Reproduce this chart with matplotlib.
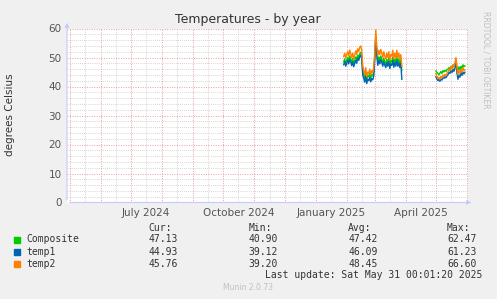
import numpy as np
import pandas as pd
import matplotlib
matplotlib.use("Agg")
import matplotlib.pyplot as plt
import matplotlib.dates as mdates

# ---- data ----
seg1_start = "2025-01-29"
composite_1 = [48.5, 49.5, 48.0, 49.2, 50.0, 48.8, 50.5, 49.5,
               48.3, 49.6, 47.8, 49.0, 50.2, 49.2, 50.8, 50.0, 51.3,
               51.8, 50.5, 45.5, 44.2,
               42.8, 45.0, 42.4, 43.8, 43.3, 44.7, 42.9, 44.2, 43.6, 45.0,
               50.5, 57.5, 52.0,
               48.5, 50.2, 49.0, 50.5, 49.4, 48.2, 49.8, 48.5, 47.6, 49.4,
               48.1, 49.8, 47.3, 49.0, 48.5, 50.2, 47.8, 49.5, 48.2, 50.3,
               48.1, 49.5, 47.8, 49.2, 45.5]
temp1_1 = [47.5, 48.5, 47.0, 48.0, 49.0, 47.8, 49.3, 48.5,
           47.2, 48.5, 46.8, 48.0, 49.0, 48.0, 49.8, 49.0, 50.3,
           50.8, 49.5, 44.0, 42.8,
           41.5, 43.5, 41.0, 42.5, 42.0, 43.2, 41.6, 42.8, 42.3, 43.5,
           49.5, 56.8, 51.0,
           47.3, 49.0, 47.8, 49.3, 48.2, 47.0, 48.6, 47.3, 46.5, 48.2,
           47.0, 48.6, 46.2, 47.8, 47.3, 49.0, 46.6, 48.3, 47.0, 49.0,
           47.0, 48.2, 46.5, 48.0, 42.5]
temp2_1 = [50.3, 51.5, 49.8, 51.0, 52.0, 50.5, 52.6, 51.2,
           50.0, 51.5, 49.5, 50.8, 52.3, 51.0, 53.0, 52.0, 53.5,
           54.0, 52.5, 47.0, 45.5,
           44.0, 46.5, 43.5, 45.0, 44.5, 46.0, 44.0, 45.5, 44.8, 46.5,
           52.0, 59.5, 54.0,
           50.5, 52.5, 51.0, 52.8, 51.5, 50.0, 52.0, 50.5, 49.5, 51.5,
           50.0, 52.0, 49.0, 51.0, 50.5, 52.5, 49.5, 51.5, 50.0, 52.5,
           50.0, 51.5, 49.5, 51.0, 47.0]

seg2_start = "2025-05-01"
composite_2 = [45.4, 44.8, 44.5, 44.0, 44.6, 45.2, 44.5, 45.5, 45.0, 45.6,
               45.2, 45.8, 46.0, 46.5, 46.0, 47.0, 46.3, 47.5, 46.8, 47.8,
               49.0, 46.5, 45.5, 46.8, 45.8, 47.0, 46.2, 47.5, 46.8, 47.13]
temp1_2 = [43.4, 42.5, 42.0, 42.5, 41.8, 42.6, 42.2, 43.0, 42.8, 43.4,
           43.0, 43.6, 44.0, 45.0, 44.5, 45.5, 44.8, 46.0, 45.2, 46.5,
           48.5, 44.5, 42.5, 44.0, 43.2, 44.8, 43.8, 45.0, 44.3, 44.93]
temp2_2 = [44.5, 43.5, 42.8, 43.2, 42.5, 43.5, 43.0, 44.0, 43.5, 44.2,
           43.8, 44.5, 45.0, 46.0, 45.5, 46.8, 46.0, 47.5, 46.5, 48.0,
           50.0, 46.5, 44.0, 45.5, 44.5, 46.0, 45.0, 46.5, 45.5, 45.76]

series_names = ["Composite", "temp1", "temp2"]
series_colors = ["#00CC00", "#0066B3", "#FF8000"]
cur_vals = ["47.13", "44.93", "45.76"]
min_vals = ["40.90", "39.12", "39.20"]
avg_vals = ["47.42", "46.09", "48.45"]
max_vals = ["62.47", "61.23", "66.60"]

month_labels = ["July 2024", "October 2024", "January 2025", "April 2025"]
month_label_dates = ["2024-07-16", "2024-10-16", "2025-01-16", "2025-04-16"]

x_start = pd.Timestamp("2024-04-28")
x_end = pd.Timestamp("2025-06-02")

# ---- figure ----
W, H = 497, 299
fig = plt.figure(figsize=(W / 100, H / 100), dpi=100, facecolor="#F0F0F0")
L, R, T, B = 67, 468, 28.5, 202.5
ax = fig.add_axes([L / W, 1 - B / H, (R - L) / W, (B - T) / H])
ax.set_facecolor("white")

idx1 = pd.date_range(seg1_start, periods=len(composite_1), freq="D")
idx2 = pd.date_range(seg2_start, periods=len(composite_2), freq="D")
seg1 = [composite_1, temp1_1, temp2_1]
seg2 = [composite_2, temp1_2, temp2_2]
for k in range(3):
    ax.plot(idx1, seg1[k], color=series_colors[k], lw=1.0, zorder=3 + k)
    ax.plot(idx2, seg2[k], color=series_colors[k], lw=1.0, zorder=3 + k)

ax.set_xlim(x_start, x_end)
ax.set_ylim(0, 60)

# grid
for v in range(0, 61, 2):
    if v % 10 == 0:
        continue
    ax.axhline(v, color="#C8C8C8", lw=0.6, ls=(0, (1, 1.5)), zorder=1)
for v in range(10, 61, 10):
    ax.axhline(v, color="#E8A0A0", lw=0.7, ls=(0, (1, 1.5)), zorder=2)
months = pd.date_range("2024-05-01", "2025-06-01", freq="MS")
for m in months:
    ax.axvline(m, color="#E8A0A0", lw=0.7, ls=(0, (1, 1.5)), zorder=2)
    mid = m + pd.Timedelta(days=15)
    if mid < x_end:
        ax.axvline(mid, color="#C8C8C8", lw=0.6, ls=(0, (1, 1.5)), zorder=1)

for s in ax.spines.values():
    s.set_visible(False)
ax.tick_params(length=0, labelsize=7.5, colors="#555555", pad=4)
ax.set_yticks(range(0, 61, 10))
ax.set_xticks(pd.to_datetime(month_label_dates))
ax.set_xticklabels(month_labels)

# axis lines with arrows
ax.annotate("", xy=(L / W, 1 - 20 / H), xytext=(L / W, 1 - B / H),
            xycoords="figure fraction",
            arrowprops=dict(arrowstyle="-|>", color="#C8C8FF", lw=0.8,
                            mutation_scale=6))
ax.annotate("", xy=(474 / W, 1 - B / H), xytext=(L / W, 1 - B / H),
            xycoords="figure fraction",
            arrowprops=dict(arrowstyle="-|>", color="#C8C8FF", lw=0.8,
                            mutation_scale=6))

fig.text(248 / W, 1 - 19 / H, "Temperatures - by year", ha="center",
         va="center", fontsize=9, color="#333333")
fig.text(10 / W, 1 - 115 / H, "degrees Celsius", rotation=90, ha="center",
         va="center", fontsize=7.5, color="#333333")
fig.text(486 / W, 1 - 60 / H, "RRDTOOL / TOBI OETIKER", rotation=270,
         ha="center", va="center", fontsize=5.5, color="#C0C0C0")

# legend table
mono = "DejaVu Sans Mono"
fs = 7
fig.text(172 / W, 1 - 228.3 / H, "Cur:", ha="right", va="center", family=mono, fontsize=fs, color="#333333")
fig.text(272 / W, 1 - 228.3 / H, "Min:", ha="right", va="center", family=mono, fontsize=fs, color="#333333")
fig.text(371 / W, 1 - 228.3 / H, "Avg:", ha="right", va="center", family=mono, fontsize=fs, color="#333333")
fig.text(470 / W, 1 - 228.3 / H, "Max:", ha="right", va="center", family=mono, fontsize=fs, color="#333333")
rows_y = [239.5, 251.7, 264]
for k in range(3):
    y = 1 - rows_y[k] / H
    fig.patches.append(plt.Rectangle(((14 / W), y - 3 / H), 6 / W, 6 / H,
                                     transform=fig.transFigure,
                                     color=series_colors[k]))
    fig.text(26 / W, y, series_names[k], ha="left", va="center", family=mono, fontsize=fs, color="#333333")
    fig.text(178 / W, y, cur_vals[k], ha="right", va="center", family=mono, fontsize=fs, color="#333333")
    fig.text(278 / W, y, min_vals[k], ha="right", va="center", family=mono, fontsize=fs, color="#333333")
    fig.text(378 / W, y, avg_vals[k], ha="right", va="center", family=mono, fontsize=fs, color="#333333")
    fig.text(477 / W, y, max_vals[k], ha="right", va="center", family=mono, fontsize=fs, color="#333333")

fig.text(482 / W, 1 - 275.5 / H, "Last update: Sat May 31 00:01:20 2025",
         ha="right", va="center", family=mono, fontsize=fs, color="#333333")
fig.text(248 / W, 1 - 288 / H, "Munin 2.0.73", ha="center", va="center",
         fontsize=5.5, color="#C0C0C0")

fig.savefig("out.png", dpi=100, facecolor=fig.get_facecolor())
